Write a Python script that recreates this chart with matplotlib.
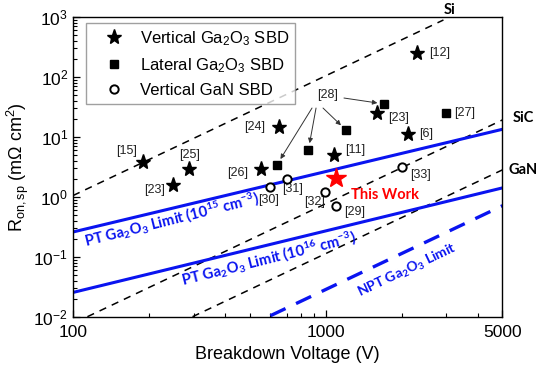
import numpy as np
import matplotlib
matplotlib.use('Agg')
import matplotlib.pyplot as plt
from matplotlib.ticker import FixedLocator, NullFormatter

plt.rcParams['font.family'] = ['Liberation Sans', 'DejaVu Sans']
plt.rcParams['mathtext.fontset'] = 'custom'
plt.rcParams['mathtext.rm'] = 'Liberation Sans'
plt.rcParams['mathtext.it'] = 'Liberation Sans:italic'
plt.rcParams['mathtext.bf'] = 'Lato:bold'

# vertical Ga2O3 SBDs (breakdown voltage V, Ron,sp mOhm cm2)
star_v = [190, 288, 249, 655, 553, 1078, 1590, 2109, 2301]
star_r = [3.85, 2.91, 1.57, 14.8, 2.88, 4.99, 24.7, 11.2, 253]
star_tag = ['[15]', '[25]', '[23]', '[24]', '[26]', '[11]', '[23]', '[6]', '[12]']
star_off = [(-12.5, 8), (0.5, 10), (-13.7, -3.6), (-17.5, 0), (-17, -2.7),
            (15, 3.6), (15.5, -3.6), (13, 0), (16.3, 0)]

# lateral Ga2O3 SBDs ([28] x4, [27])
sq_v = [640, 853, 1202, 1703, 2989]
sq_r = [3.40, 6.04, 13.0, 35.4, 25.3]

# vertical GaN SBDs
circ_v = [602, 700, 993, 1097, 1996]
circ_r = [1.48, 1.98, 1.19, 0.71, 3.18]
circ_tag = ['[30]', '[31]', '[32]', '[29]', '[33]']
circ_off = [(-1.4, -9.6), (4.5, -7.2), (-7.2, -7), (13.7, -4.3), (13.2, -6)]

# this work
tw_v = [1097]
tw_r = [2.04]

# material limits (end points of straight lines on log-log)
si_v, si_r = [100, 2920], [1.05, 892]
sic_v, sic_r = [114, 5000], [0.01, 19.2]
gan_v, gan_r = [297, 5000], [0.01, 2.82]
pt15_v, pt15_r = [100, 5000], [0.259, 13.4]
pt16_v, pt16_r = [100, 5000], [0.0254, 1.41]
npt_v, npt_r = [604, 5000], [0.0104, 0.71]

fig = plt.figure(figsize=(5.42, 3.69), dpi=100)
ax = fig.add_axes([0.1347, 0.1417, 0.7924, 0.8122])
ax.set_xscale('log')
ax.set_yscale('log')
ax.set_xlim(100, 5000)
ax.set_ylim(1e-2, 1e3)

dash_k = dict(color='k', linewidth=1.1, dashes=(4.8, 4))
ax.plot(si_v, si_r, **dash_k)
ax.plot(sic_v, sic_r, **dash_k)
ax.plot(gan_v, gan_r, **dash_k)
ax.plot(pt15_v, pt15_r, color='#0a14f0', linewidth=2.2)
ax.plot(pt16_v, pt16_r, color='#0a14f0', linewidth=2.2)
ax.plot(npt_v, npt_r, color='#0a14f0', linewidth=2.4, dashes=(5, 3.5))

ax.plot(star_v, star_r, '*', color='k', markersize=11, linestyle='none',
        label='Vertical Ga$_2$O$_3$ SBD', zorder=5)
ax.plot(sq_v, sq_r, 's', color='k', markersize=6, linestyle='none',
        label='Lateral Ga$_2$O$_3$ SBD', zorder=5)
ax.plot(circ_v, circ_r, 'o', markerfacecolor='white', markeredgecolor='k',
        markeredgewidth=1.4, markersize=6, linestyle='none',
        label='Vertical GaN SBD', zorder=5)
ax.plot(tw_v, tw_r, '*', color='#ff0000', markersize=15, linestyle='none', zorder=6)

tag_fs = 9
for v, r, t, o in zip(star_v, star_r, star_tag, star_off):
    ax.annotate(t, (v, r), xytext=o, textcoords='offset points',
                ha='center', va='center', fontsize=tag_fs, color='#222222')
for v, r, t, o in zip(circ_v, circ_r, circ_tag, circ_off):
    ax.annotate(t, (v, r), xytext=o, textcoords='offset points',
                ha='center', va='center', fontsize=tag_fs, color='#222222')
ax.annotate('[27]', (sq_v[4], sq_r[4]), xytext=(13.7, 0), textcoords='offset points',
            ha='center', va='center', fontsize=tag_fs, color='#222222')

# [28] with arrows to the four lateral devices
ax.text(1020, 50, '[28]', ha='center', va='center', fontsize=tag_fs, color='#222222')
arrow_starts = [(882, 30.3), (915, 30.3), (975, 30.3), (1180, 44.5)]
for (sx, sy), v, r in zip(arrow_starts, sq_v[:4], sq_r[:4]):
    ax.annotate('', xy=(v, r), xytext=(sx, sy),
                arrowprops=dict(arrowstyle='-|>', color='#333333', lw=0.7,
                                mutation_scale=7, shrinkA=0, shrinkB=5))

ax.annotate('This Work', (tw_v[0], tw_r[0]), xytext=(35.3, -12), textcoords='offset points',
            ha='center', va='center', fontsize=10.5, color='#ff0000',
            fontweight='bold', family='Lato')

blue_txt = dict(color='#0a14f0', fontweight='bold', family='Lato',
                ha='center', va='center', rotation_mode='anchor')
ax.text(245, 0.41, 'PT Ga$_\\mathbf{2}$O$_\\mathbf{3}$ Limit (10$^\\mathbf{15}$ cm$^\\mathbf{-3}$)',
        rotation=14, fontsize=10.6, **blue_txt)
ax.text(596, 0.092, 'PT Ga$_\\mathbf{2}$O$_\\mathbf{3}$ Limit (10$^\\mathbf{16}$ cm$^\\mathbf{-3}$)',
        rotation=14, fontsize=10.6, **blue_txt)
ax.text(2105, 0.060, 'NPT Ga$_\\mathbf{2}$O$_\\mathbf{3}$ Limit', rotation=25.4,
        fontsize=10, **blue_txt)

mat_txt = dict(fontweight='bold', family='Lato', fontsize=10.5, ha='center', va='center',
               clip_on=False)
ax.text(3100, 1300, 'Si', **mat_txt)
ax.text(6030, 20.5, 'SiC', **mat_txt)
ax.text(6030, 2.8, 'GaN', **mat_txt)

ax.set_xticks([100, 1000, 5000])
ax.set_xticklabels(['100', '1000', '5000'])
ax.xaxis.set_minor_locator(FixedLocator([200, 300, 400, 500, 600, 700, 800, 900,
                                         2000, 3000, 4000]))
ax.xaxis.set_minor_formatter(NullFormatter())
ax.tick_params(which='both', direction='in', labelsize=12.5, top=False, right=False)
ax.tick_params(which='major', length=5, width=0.9)
ax.tick_params(which='minor', length=3, width=0.8)
ax.tick_params(axis='x', pad=6)

ax.set_xlabel('Breakdown Voltage (V)', fontsize=13, labelpad=4)
ax.set_ylabel('R$_{\\mathrm{on,sp}}$ (mΩ cm$^2$)', fontsize=13, labelpad=2)

for s in ax.spines.values():
    s.set_linewidth(1.0)

leg = ax.legend(loc='upper left', bbox_to_anchor=(0.0303, 0.98), borderaxespad=0,
                fontsize=12, frameon=True, fancybox=False, edgecolor='#888888',
                handletextpad=0.2, labelspacing=0.5, borderpad=0.35,
                handlelength=2.7, numpoints=1)
leg.get_frame().set_linewidth(1.0)

fig.savefig('out.png', dpi=100)
